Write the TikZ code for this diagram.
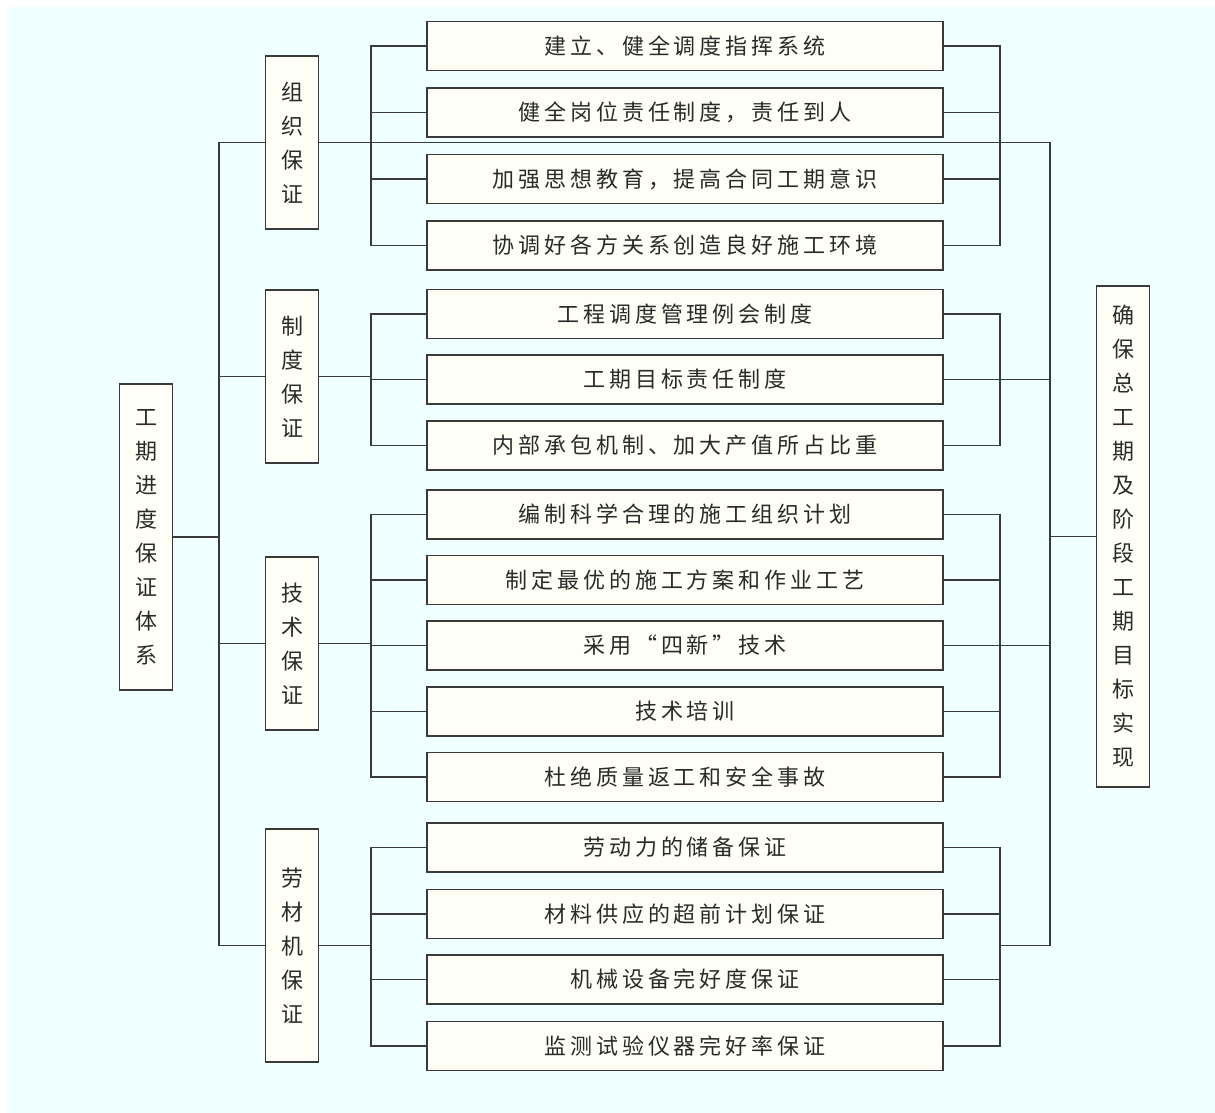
\documentclass[tikz,border=0pt]{standalone}
\usepackage{fontspec}
\newfontfamily\cjk[LetterSpace=18]{Noto Sans CJK SC}
\newfontfamily\cjkv{Noto Sans CJK SC}
\definecolor{bgc}{HTML}{F0FFFF}
\definecolor{boxfill}{HTML}{FFFFF7}
\definecolor{lnc}{HTML}{3A3A3A}
\definecolor{txc}{HTML}{2A2A2A}
\begin{document}
\begin{tikzpicture}[x=1pt,y=-1pt,
  box/.style={draw=lnc, fill=boxfill, line width=1.4pt, inner sep=0pt, text=txc},
  item/.style={box, minimum width=516pt, minimum height=49pt, font=\cjk\fontsize{22}{26}\selectfont},
  vbox/.style={box, minimum width=53pt, align=center, font=\cjkv\fontsize{22}{34}\selectfont},
  conn/.style={draw=lnc, line width=1.2pt}]
\useasboundingbox (0,0) rectangle (1215,1113);
\fill[white] (0,0) rectangle (1215,1113);
\fill[bgc] (7,7) rectangle (1215,1113);

% coordinates for trunks and brackets
\coordinate (lt) at (219,0);
\coordinate (lb) at (371,0);
\coordinate (rb) at (1000,0);
\coordinate (rt) at (1050,0);

% main boxes
\node[vbox, minimum height=306pt] (L) at (146,537) {工\\期\\进\\度\\保\\证\\体\\系};
\node[vbox, minimum height=501pt] (R) at (1123,536.5) {确\\保\\总\\工\\期\\及\\阶\\段\\工\\期\\目\\标\\实\\现};

% group boxes
\node[vbox, minimum height=173pt] (G1) at (292,142.5) {组\\织\\保\\证};
\node[vbox, minimum height=173pt] (G2) at (292,376.5) {制\\度\\保\\证};
\node[vbox, minimum height=173pt] (G3) at (292,643.5) {技\\术\\保\\证};
\node[vbox, minimum height=233pt] (G4) at (292,945.5) {劳\\材\\机\\保\\证};

% items
\node[item] (a1) at (685,46)    {建立、健全调度指挥系统};
\node[item] (a2) at (685,112.5) {健全岗位责任制度，责任到人};
\node[item] (a3) at (685,179)   {加强思想教育，提高合同工期意识};
\node[item] (a4) at (685,245.5) {协调好各方关系创造良好施工环境};

\node[item] (b1) at (685,314)   {工程调度管理例会制度};
\node[item] (b2) at (685,379.5) {工期目标责任制度};
\node[item] (b3) at (685,445.5) {内部承包机制、加大产值所占比重};

\node[item] (c1) at (685,514.5) {编制科学合理的施工组织计划};
\node[item] (c2) at (685,580)   {制定最优的施工方案和作业工艺};
\node[item] (c3) at (685,645.5) {采用“四新”技术};
\node[item] (c4) at (685,711.5) {技术培训};
\node[item] (c5) at (685,777)   {杜绝质量返工和安全事故};

\node[item] (d1) at (685,847.5) {劳动力的储备保证};
\node[item] (d2) at (685,914)   {材料供应的超前计划保证};
\node[item] (d3) at (685,979.5) {机械设备完好度保证};
\node[item] (d4) at (685,1046)  {监测试验仪器完好率保证};

% left trunk
\draw[conn] (G1.west -| lt) -- (G4.west -| lt);
\draw[conn] (L.east) -- (L.east -| lt);
\foreach \g in {G1,G2,G3,G4} \draw[conn] (\g.west) -- (\g.west -| lt);

% right trunk
\draw[conn] (G1.east -| rt) -- (G4.east -| rt);
\draw[conn] (R.west) -- (R.west -| rt);

% group 1
\draw[conn] (G1.east) -- (G1.east -| rt);
\draw[conn] (a1.west) -- (a1.west -| lb) -- (a4.west -| lb) -- (a4.west);
\draw[conn] (a2.west) -- (a2.west -| lb);
\draw[conn] (a3.west) -- (a3.west -| lb);
\draw[conn] (a1.east) -- (a1.east -| rb) -- (a4.east -| rb) -- (a4.east);
\draw[conn] (a2.east) -- (a2.east -| rb);
\draw[conn] (a3.east) -- (a3.east -| rb);

% group 2
\draw[conn] (G2.east) -- (G2.east -| lb);
\draw[conn] (b1.west) -- (b1.west -| lb) -- (b3.west -| lb) -- (b3.west);
\draw[conn] (b2.west) -- (b2.west -| lb);
\draw[conn] (b1.east) -- (b1.east -| rb) -- (b3.east -| rb) -- (b3.east);
\draw[conn] (b2.east) -- (b2.east -| rt);

% group 3
\draw[conn] (G3.east) -- (G3.east -| lb);
\draw[conn] (c1.west) -- (c1.west -| lb) -- (c5.west -| lb) -- (c5.west);
\foreach \i in {c2,c3,c4} \draw[conn] (\i.west) -- (\i.west -| lb);
\draw[conn] (c1.east) -- (c1.east -| rb) -- (c5.east -| rb) -- (c5.east);
\draw[conn] (c2.east) -- (c2.east -| rb);
\draw[conn] (c4.east) -- (c4.east -| rb);
\draw[conn] (c3.east) -- (c3.east -| rt);

% group 4
\draw[conn] (G4.east) -- (G4.east -| lb);
\draw[conn] (d1.west) -- (d1.west -| lb) -- (d4.west -| lb) -- (d4.west);
\foreach \i in {d2,d3} \draw[conn] (\i.west) -- (\i.west -| lb);
\draw[conn] (d1.east) -- (d1.east -| rb) -- (d4.east -| rb) -- (d4.east);
\foreach \i in {d2,d3} \draw[conn] (\i.east) -- (\i.east -| rb);
\draw[conn] (G4.east -| rb) -- (G4.east -| rt);
\end{tikzpicture}
\end{document}
